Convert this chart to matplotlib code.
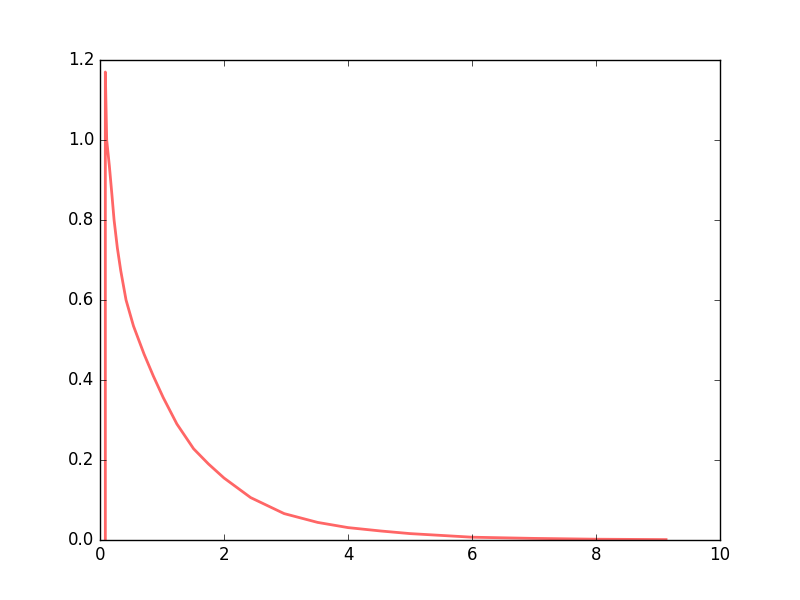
import matplotlib
matplotlib.use("Agg")
import matplotlib.pyplot as plt

# values
x_vals = [0.086, 0.086, 0.108, 0.151, 0.194, 0.227, 0.28, 0.335, 0.42, 0.54, 0.71,
          0.86, 1.02, 1.24, 1.51, 1.75, 2.0, 2.43, 2.97, 3.51, 4.0, 4.53, 5.0,
          6.0, 7.0, 8.0, 9.13]
y_vals = [0.0, 1.17, 1.0, 0.935, 0.86, 0.8, 0.73, 0.673, 0.6, 0.535, 0.465,
          0.41, 0.356, 0.29, 0.228, 0.19, 0.155, 0.106, 0.066, 0.044, 0.031,
          0.0225, 0.016, 0.007, 0.004, 0.002, 0.001]

plt.style.use("classic")
fig, ax = plt.subplots(figsize=(8, 6), dpi=100)
fig.patch.set_facecolor("white")

ax.plot(x_vals, y_vals, "r-", lw=2, alpha=0.6)
ax.set_xlim(0, 10)
ax.set_ylim(0, 1.2)

plt.savefig("out.png", dpi=100, facecolor="white")
